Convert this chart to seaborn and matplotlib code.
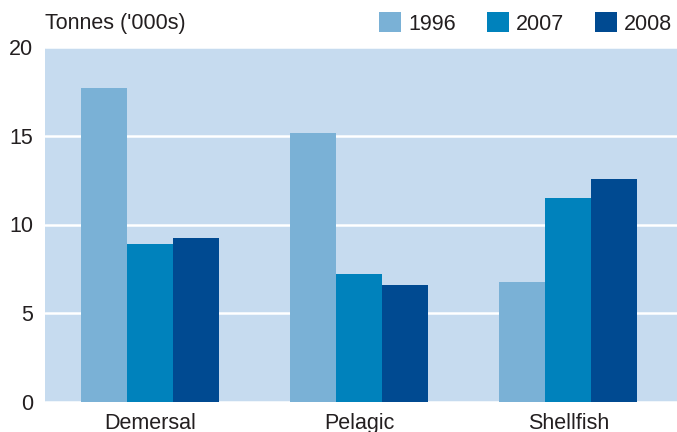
import matplotlib
matplotlib.use("Agg")
import matplotlib.pyplot as plt
import seaborn as sns
import pandas as pd

categories = ["Demersal", "Pelagic", "Shellfish"]
years = ["1996", "2007", "2008"]
values_1996 = [17.7, 15.15, 6.75]
values_2007 = [8.9, 7.2, 11.5]
values_2008 = [9.22, 6.6, 12.55]
yticks = [0, 5, 10, 15, 20]

colors = ["#7ab1d6", "#0082bc", "#004a91"]
bg = "#c6dbef"
text_color = "#231f20"
fs = 15.5

rows = []
for yr, vals in zip(years, [values_1996, values_2007, values_2008]):
    for c, v in zip(categories, vals):
        rows.append({"category": c, "year": yr, "value": v})
df = pd.DataFrame(rows)

sns.set_theme(style="white")
plt.rcParams["font.family"] = ["Liberation Sans", "DejaVu Sans"]
plt.rcParams["text.color"] = text_color

fig = plt.figure(figsize=(6.77, 4.32), dpi=100)
ax = fig.add_axes([45 / 677, 30 / 432, 1 - 45 / 677, (402 - 47) / 432])
ax.set_facecolor(bg)

sns.barplot(data=df, x="category", y="value", hue="year", hue_order=years,
            palette=colors, saturation=1, width=0.66, gap=0, ax=ax,
            edgecolor="none", linewidth=0)

ax.set_ylim(0, 20)
ax.set_xlim(-0.502, 2.52)
ax.set_yticks(yticks)
ax.set_yticklabels([str(t) for t in yticks])
ax.yaxis.grid(True, color="white", linewidth=1.8)
ax.xaxis.grid(False)
ax.set_axisbelow(True)
for s in ax.spines.values():
    s.set_visible(False)
ax.tick_params(axis="both", length=0, labelsize=fs, colors=text_color)
ax.tick_params(axis="x", pad=8)
ax.tick_params(axis="y", pad=8.5)
ax.set_xlabel("")
ax.set_ylabel("")

sns.move_legend(ax, "center left", bbox_to_anchor=(379 / 677, 1 - 23.5 / 432),
                bbox_transform=fig.transFigure, ncol=3, frameon=False, title=None,
                fontsize=fs, handlelength=1.02, handleheight=1.02,
                handletextpad=0.33, columnspacing=1.44, borderpad=0, borderaxespad=0)

fig.text(45 / 677, 1 - 23 / 432, "Tonnes ('000s)", fontsize=fs, va="center",
         ha="left", color=text_color)

fig.savefig("out.png", dpi=100)
